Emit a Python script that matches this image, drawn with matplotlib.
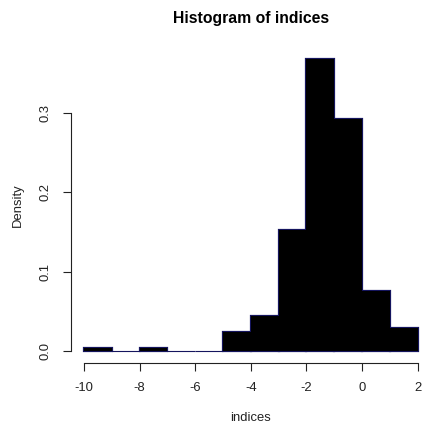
import matplotlib
matplotlib.use("Agg")
import matplotlib.pyplot as plt
import numpy as np

# Data: histogram of "indices" (density scale), bin width 1
bin_edges = [-10, -9, -8, -7, -6, -5, -4, -3, -2, -1, 0, 1, 2]
densities = [0.004, 0.0, 0.004, 0.0, 0.0, 0.024, 0.044, 0.152, 0.368, 0.292, 0.076, 0.029]
x_ticks = [-10, -8, -6, -4, -2, 0, 2]
y_ticks = [0.0, 0.1, 0.2, 0.3]
y_tick_labels = ["0.0", "0.1", "0.2", "0.3"]

plt.rcParams['font.family'] = ['Liberation Sans', 'DejaVu Sans']

W, H = 424, 425
fig = plt.figure(figsize=(W / 100, H / 100), dpi=100)

L, R, T, B = 70.6, 431.0, 46.8, 362.7
ax = fig.add_axes([L / W, 1 - B / H, (R - L) / W, (B - T) / H])
ax.patch.set_alpha(0)

lefts = np.array(bin_edges[:-1])
widths = np.diff(bin_edges)
dens = np.array(densities)
mask = dens > 0
# zero-height bins drawn as thin baseline segments (as R's hist does)
ax.bar(lefts[~mask], dens[~mask], width=widths[~mask], align='edge', color='none',
       edgecolor='#15155e', linewidth=0.8, zorder=2)
# outline layer (navy), then fill layer on top so interior edges vanish
ax.bar(lefts[mask], dens[mask], width=widths[mask], align='edge', color='#15155e',
       edgecolor='#15155e', linewidth=1.6, zorder=2)
ax.bar(lefts[mask], dens[mask], width=widths[mask], align='edge', color='black',
       edgecolor='none', linewidth=0, zorder=3)

ax.set_xlim(-10.48, 2.48)
ymax = max(densities)
ax.set_ylim(-0.04 * ymax, ymax * 1.04)

for s in ['top', 'right']:
    ax.spines[s].set_visible(False)
ax.spines['left'].set_bounds(0, 0.3)
ax.spines['bottom'].set_bounds(-10, 2)
for s in ['left', 'bottom']:
    ax.spines[s].set_linewidth(0.8)
    ax.spines[s].set_color('#222222')

ax.set_xticks(x_ticks)
ax.set_xticklabels([str(t) for t in x_ticks])
ax.set_yticks(y_ticks)
ax.set_yticklabels(y_tick_labels, rotation=90, va='center')
ax.tick_params(axis='both', direction='out', length=5.5, width=0.8,
               color='#222222', labelsize=9.4, labelcolor='#222222', pad=8.5)

cx = (L + R) / 2
fig.text(cx / W, 1 - 18 / H, "Histogram of indices", ha='center', va='center',
         fontsize=11.3, fontweight='bold')
fig.text(cx / W, 1 - 418 / H, "indices", ha='center', va='center',
         fontsize=9.4, color='#222222')
fig.text(18 / W, 1 - 205 / H, "Density", ha='center', va='center',
         fontsize=9.4, rotation=90, color='#222222')

fig.savefig("out.png", dpi=100)
